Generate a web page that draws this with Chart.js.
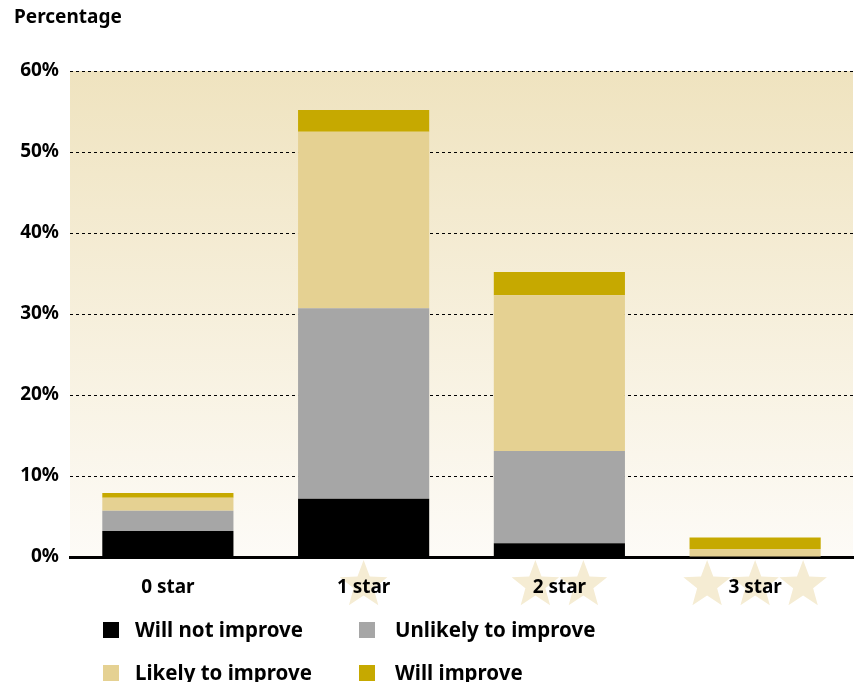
<!DOCTYPE html>
<html>
<head>
<meta charset="utf-8">
<script src="https://cdn.jsdelivr.net/npm/chart.js@4"></script>
<style>
  html, body { margin: 0; padding: 0; background: #fff; }
  #wrap { position: relative; width: 855px; height: 682px; overflow: hidden; }
  #chart { position: absolute; left: 0; top: 0; }
  .lbl { position: absolute; font-family: "Noto Sans", sans-serif; font-weight: bold; color: #000; white-space: nowrap; }
  .title { left: 14px; top: 3px; font-size: 19px; }
  .leg { font-size: 20.5px; line-height: 22px; }
  .sw { position: absolute; width: 16px; height: 16px; }
</style>
</head>
<body>
<div id="wrap">
  <canvas id="chart" width="855" height="682"></canvas>
  <div class="lbl title">Percentage</div>
  <div id="legend"></div>
</div>
<script>
// categories and values (percent)
var categories = ['0 star', '1 star', '2 star', '3 star'];
var starCounts = [0, 1, 2, 3];
var willNotImprove = [3.2, 7.2, 1.7, 0];
var unlikelyToImprove = [2.5, 23.5, 11.4, 0];
var likelyToImprove = [1.6, 21.8, 19.2, 1.0];
var willImprove = [0.6, 2.7, 2.9, 1.4];
var yTicks = [0, 10, 20, 30, 40, 50, 60];

var seriesNames = ['Will not improve', 'Unlikely to improve', 'Likely to improve', 'Will improve'];
var seriesColors = ['#000000', '#a6a6a6', '#e5d192', '#c6a900'];
var seriesData = [willNotImprove, unlikelyToImprove, likelyToImprove, willImprove];

// legend, two columns
var legendPos = [[103, 622], [359, 622], [103, 665], [359, 665]];
var legend = document.getElementById('legend');
seriesNames.forEach(function (name, i) {
    var sw = document.createElement('div');
    sw.className = 'sw';
    sw.style.left = legendPos[i][0] + 'px';
    sw.style.top = legendPos[i][1] + 'px';
    sw.style.background = seriesColors[i];
    legend.appendChild(sw);
    var t = document.createElement('div');
    t.className = 'lbl leg';
    t.style.left = (legendPos[i][0] + (i % 2 ? 36 : 32)) + 'px';
    t.style.top = (legendPos[i][1] - 4) + 'px';
    t.textContent = name;
    legend.appendChild(t);
});

function drawStar(ctx, cx, cy, r) {
    ctx.beginPath();
    for (var k = 0; k < 10; k++) {
        var rad = (k % 2 === 0) ? r : r * 0.42;
        var a = -Math.PI / 2 + k * Math.PI / 5;
        var px = cx + rad * Math.cos(a), py = cy + rad * Math.sin(a);
        if (k === 0) ctx.moveTo(px, py); else ctx.lineTo(px, py);
    }
    ctx.closePath();
    ctx.fill();
}

// gradient plot background + decorative stars behind the category labels
var backdrop = {
    id: 'backdrop',
    beforeDraw: function (chart) {
        var ctx = chart.ctx, a = chart.chartArea, xs = chart.scales.x;
        ctx.save();
        var g = ctx.createLinearGradient(0, a.top, 0, a.bottom);
        g.addColorStop(0, '#efe3bf');
        g.addColorStop(1, '#fdfbf7');
        ctx.fillStyle = g;
        ctx.fillRect(a.left, a.top, a.right - a.left, a.bottom - a.top);
        ctx.fillStyle = '#f5ecd3';
        categories.forEach(function (c, i) {
            var cx = xs.getPixelForValue(i);
            var n = starCounts[i];
            for (var s = 0; s < n; s++) {
                var off = (s - (n - 1) / 2) * 48;
                drawStar(ctx, cx + off, a.bottom + 28, 25);
            }
        });
        ctx.restore();
    }
};

var tickFont = { family: '"Noto Sans", sans-serif', size: 19, weight: 'bold' };

new Chart(document.getElementById('chart'), {
    type: 'bar',
    data: {
        labels: categories,
        datasets: seriesNames.map(function (name, i) {
            return {
                label: name,
                data: seriesData[i],
                backgroundColor: seriesColors[i],
                borderWidth: 0,
                categoryPercentage: 1,
                barPercentage: 0.67
            };
        })
    },
    options: {
        responsive: false,
        animation: false,
        layout: { padding: { top: 71, right: 2, left: 0, bottom: 0 } },
        plugins: { legend: { display: false }, tooltip: { enabled: false } },
        scales: {
            x: {
                stacked: true,
                grid: { display: false },
                border: { display: true, color: '#000', width: 3 },
                ticks: { color: '#000', font: tickFont, padding: 11 },
                afterFit: function (s) { s.height = 125; }
            },
            y: {
                stacked: true,
                min: 0,
                max: 60,
                afterBuildTicks: function (s) { s.ticks = yTicks.map(function (v) { return { value: v }; }); },
                grid: {
                    drawTicks: false,
                    color: function (c) { return c.tick && c.tick.value === 0 ? 'rgba(0,0,0,0)' : '#000'; },
                    lineWidth: 1
                },
                border: { display: false, dash: [3, 3] },
                ticks: {
                    color: '#000',
                    font: tickFont,
                    padding: 11,
                    callback: function (v) { return v + '%'; }
                },
                afterFit: function (s) { s.width = 70; }
            }
        }
    },
    plugins: [backdrop]
});
</script>
</body>
</html>
